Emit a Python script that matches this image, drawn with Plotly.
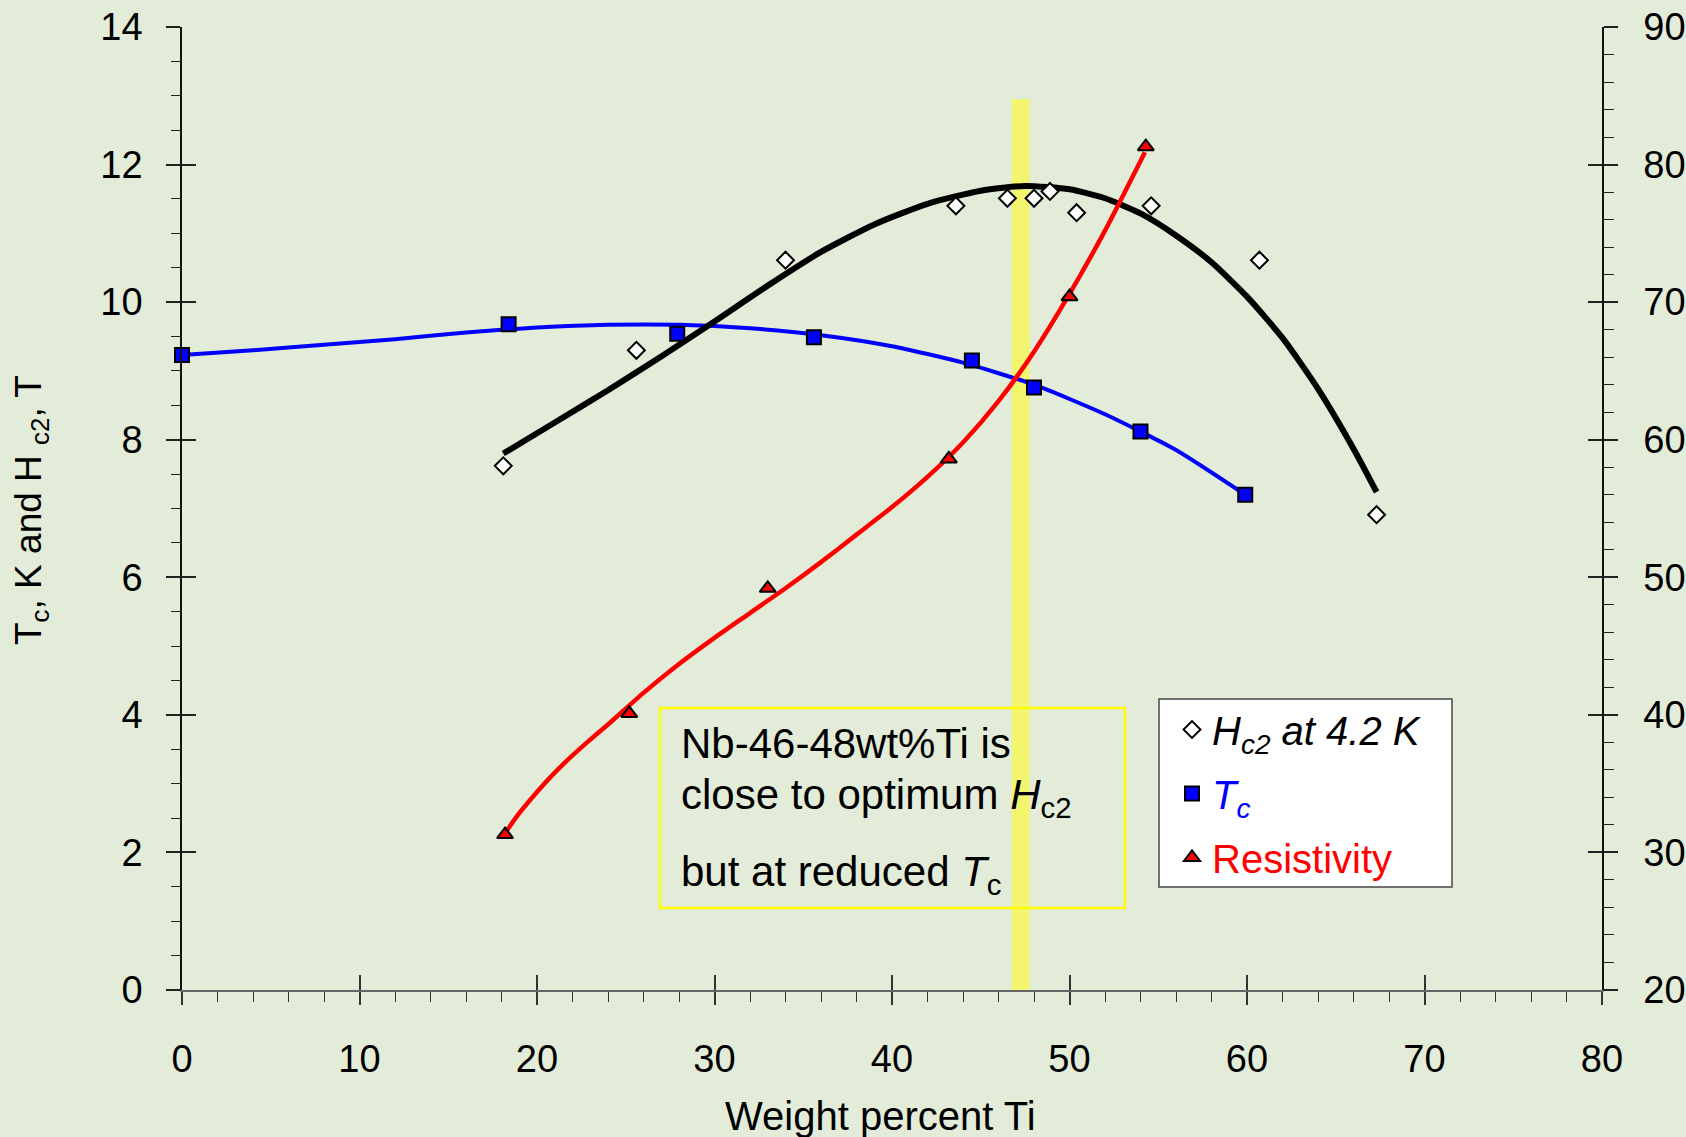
import plotly.graph_objects as go

# ---------------- data ----------------
hc2_x = [18.1, 25.6, 34.0, 43.6, 46.5, 48.0, 48.9, 50.4, 54.6, 60.7, 67.3]
hc2_y = [7.62, 9.30, 10.61, 11.40, 11.51, 11.51, 11.61, 11.30, 11.40, 10.61, 6.91]

hc2_fit_x = [18.1, 21, 24, 27, 30, 33, 36, 39, 42, 45, 47.5, 50, 52, 54, 56, 58, 60, 62, 64, 66, 67.3]
hc2_fit_y = [7.80, 8.25, 8.72, 9.21, 9.72, 10.24, 10.73, 11.13, 11.43, 11.62, 11.69, 11.64, 11.51, 11.29,
             10.97, 10.58, 10.08, 9.48, 8.74, 7.87, 7.24]

tc_x = [0, 18.4, 27.9, 35.6, 44.5, 48.0, 54.0, 59.9]
tc_y = [9.23, 9.68, 9.54, 9.49, 9.15, 8.76, 8.12, 7.20]

tc_fit_x = [0, 4, 8, 12, 16, 20, 24, 28, 32, 36, 40, 44, 48, 52, 56, 59.9]
tc_fit_y = [9.23, 9.30, 9.38, 9.46, 9.56, 9.63, 9.67, 9.67, 9.62, 9.52, 9.36, 9.12, 8.80, 8.37, 7.85, 7.20]

res_x = [18.2, 25.2, 33.0, 43.2, 50.0, 54.3]
res_y = [31.3, 40.1, 49.2, 58.6, 70.4, 81.3]

res_fit_x = [18.2, 19, 20, 21, 22, 23, 24, 26, 28, 30, 32, 34, 36, 38, 40, 42, 44, 46, 48, 50, 52, 54.25]
res_fit_y = [31.4, 32.85, 34.4, 35.8, 37.05, 38.2, 39.3, 41.6, 43.7, 45.6, 47.4, 49.2, 51.1, 53.1, 55.1,
             57.3, 59.8, 62.8, 66.4, 70.6, 75.2, 80.9]

x_range = [0, 80]
y_range = [0, 14]
y2_range = [20, 90]
optimum_band = [46.75, 47.75]

# ---------------- layout helpers ----------------
W, H = 1686, 1137
L, R, T, B = 182, 84, 27, 147
PW, PH = W - L - R, H - T - B
BG = "#e3ecd8"
FONT = "Liberation Sans, Arial, sans-serif"


def px_x(p):
    return (p - L) / PW


def px_y(p):
    return (H - B - p) / PH


fig = go.Figure()

# fitted curves
fig.add_trace(go.Scatter(x=tc_fit_x, y=tc_fit_y, mode="lines",
                         line=dict(color="#0000ff", width=4, shape="spline", smoothing=0.6),
                         showlegend=False, hoverinfo="skip"))
fig.add_trace(go.Scatter(x=hc2_fit_x, y=hc2_fit_y, mode="lines",
                         line=dict(color="#000000", width=6, shape="spline", smoothing=0.6),
                         showlegend=False, hoverinfo="skip"))
fig.add_trace(go.Scatter(x=res_fit_x, y=res_fit_y, yaxis="y2", mode="lines",
                         line=dict(color="#ff0000", width=4.5, shape="spline", smoothing=0.6),
                         showlegend=False, hoverinfo="skip"))

# markers (legend entries)
fig.add_trace(go.Scatter(x=hc2_x, y=hc2_y, mode="markers", legendgroup="a", cliponaxis=False,
                         name="<i>H<sub>c2</sub> at 4.2 K</i>",
                         marker=dict(symbol="diamond", size=13, color="white", line=dict(color="black", width=2))))
fig.add_trace(go.Scatter(x=tc_x, y=tc_y, mode="markers", legendgroup="b", cliponaxis=False,
                         name='<span style="color:#0000ff"><i>T<sub>c</sub></i></span>',
                         marker=dict(symbol="square", size=14, color="#0000ff", line=dict(color="black", width=2))))
fig.add_trace(go.Scatter(x=res_x, y=res_y, yaxis="y2", mode="markers", legendgroup="c", cliponaxis=False,
                         name='<span style="color:#ff0000">Resistivity</span>',
                         marker=dict(symbol="triangle-up", size=14, color="#ff0000", line=dict(color="black", width=2))))

# dummy traces so the inside-tick overlay axes get drawn
fig.add_trace(go.Scatter(x=[None], y=[None], xaxis="x2", yaxis="y", showlegend=False, hoverinfo="skip"))
fig.add_trace(go.Scatter(x=[None], y=[None], xaxis="x", yaxis="y3", showlegend=False, hoverinfo="skip"))
fig.add_trace(go.Scatter(x=[None], y=[None], xaxis="x", yaxis="y4", showlegend=False, hoverinfo="skip"))

tickfont = dict(family=FONT, size=38, color="black")

fig.update_layout(
    width=W, height=H,
    margin=dict(l=L, r=R, t=T, b=B, autoexpand=False),
    paper_bgcolor=BG, plot_bgcolor=BG,
    font=dict(family=FONT, color="black"),
    xaxis=dict(range=x_range, dtick=10, tick0=0, ticks="outside", ticklen=13, tickwidth=1.5, tickcolor="#333",
               showline=True, linecolor="#666", linewidth=2, showgrid=False, zeroline=False,
               tickfont=tickfont, ticklabelstandoff=21,
               minor=dict(dtick=2, tick0=0, ticks="outside", ticklen=10, tickwidth=1.2, tickcolor="#333", showgrid=False)),
    xaxis2=dict(range=x_range, overlaying="x", anchor="y", side="bottom", dtick=10, tick0=0, ticks="inside",
                ticklen=15, tickwidth=1.5, tickcolor="#333", showticklabels=False, showline=False,
                showgrid=False, zeroline=False),
    yaxis=dict(range=y_range, dtick=2, tick0=0, ticks="outside", ticklen=14, tickwidth=1.5, tickcolor="#222",
               showline=True, linecolor="#111", linewidth=1.5, showgrid=False, zeroline=False,
               tickfont=tickfont, ticklabelstandoff=16,
               minor=dict(dtick=0.5, tick0=0, ticks="outside", ticklen=9, tickwidth=1.2, tickcolor="#222", showgrid=False)),
    yaxis2=dict(range=y2_range, overlaying="y", side="right", anchor="x", dtick=10, tick0=0, ticks="outside",
                ticklen=14, tickwidth=1.5, tickcolor="#222", showline=True, linecolor="#111", linewidth=1.5,
                showgrid=False, zeroline=False, tickfont=tickfont, ticklabelstandoff=18,
                minor=dict(dtick=2, tick0=0, ticks="outside", ticklen=10, tickwidth=1.2, tickcolor="#222", showgrid=False)),
    yaxis3=dict(range=y_range, overlaying="y", side="left", anchor="x", dtick=2, tick0=0, ticks="inside",
                ticklen=14, tickwidth=1.5, tickcolor="#222", showticklabels=False, showline=False,
                showgrid=False, zeroline=False),
    yaxis4=dict(range=y2_range, overlaying="y", side="right", anchor="x", dtick=10, tick0=0, ticks="inside",
                ticklen=14, tickwidth=1.5, tickcolor="#222", showticklabels=False, showline=False,
                showgrid=False, zeroline=False),
    legend=dict(x=px_x(1172), y=px_y(697), xanchor="left", yanchor="top", bgcolor="rgba(0,0,0,0)",
                borderwidth=0, font=dict(family=FONT, size=40, color="black"),
                traceorder="grouped", tracegroupgap=9, itemsizing="trace"),
    showlegend=True,
)

# optimum band and boxes
fig.add_shape(type="rect", xref="x", yref="y", x0=optimum_band[0], x1=optimum_band[1], y0=-0.07, y1=12.95,
              fillcolor="rgb(243,245,110)", line=dict(width=0), layer="below")
fig.add_shape(type="rect", xref="paper", yref="paper", x0=px_x(660), x1=px_x(1125), y0=px_y(908), y1=px_y(708),
              fillcolor="rgba(0,0,0,0)", line=dict(color="#ffff00", width=2.5), layer="above")
fig.add_shape(type="rect", xref="paper", yref="paper", x0=px_x(1159), x1=px_x(1452), y0=px_y(887), y1=px_y(699),
              fillcolor="white", line=dict(color="#444", width=1.5), layer="below")

ann_font = dict(family=FONT, size=42, color="black")
box_lines = [
    ("Nb-46-48wt%Ti is", 743),
    ("close to optimum <i>H</i><sub>c2</sub>", 797),
    ("but at reduced <i>T</i><sub>c</sub>", 874),
]
for txt, yc in box_lines:
    fig.add_annotation(text=txt, xref="paper", yref="paper", x=px_x(679), y=px_y(yc), xanchor="left",
                       yanchor="middle", showarrow=False, font=ann_font, align="left")

# axis titles
fig.add_annotation(text="Weight percent Ti", xref="paper", yref="paper", x=px_x(880), y=px_y(1116),
                   xanchor="center", yanchor="middle", showarrow=False, font=dict(family=FONT, size=40, color="black"))
fig.add_annotation(text="T<sub>c</sub>, K and H <sub>c2</sub>, T", xref="paper", yref="paper", x=px_x(31),
                   y=px_y(510), xanchor="center", yanchor="middle", textangle=-90, showarrow=False,
                   font=dict(family=FONT, size=37, color="black"))

fig.write_html("out.html", config={"displayModeBar": False},
               post_script="document.body.style.margin='0';document.body.style.background='%s';" % BG)
